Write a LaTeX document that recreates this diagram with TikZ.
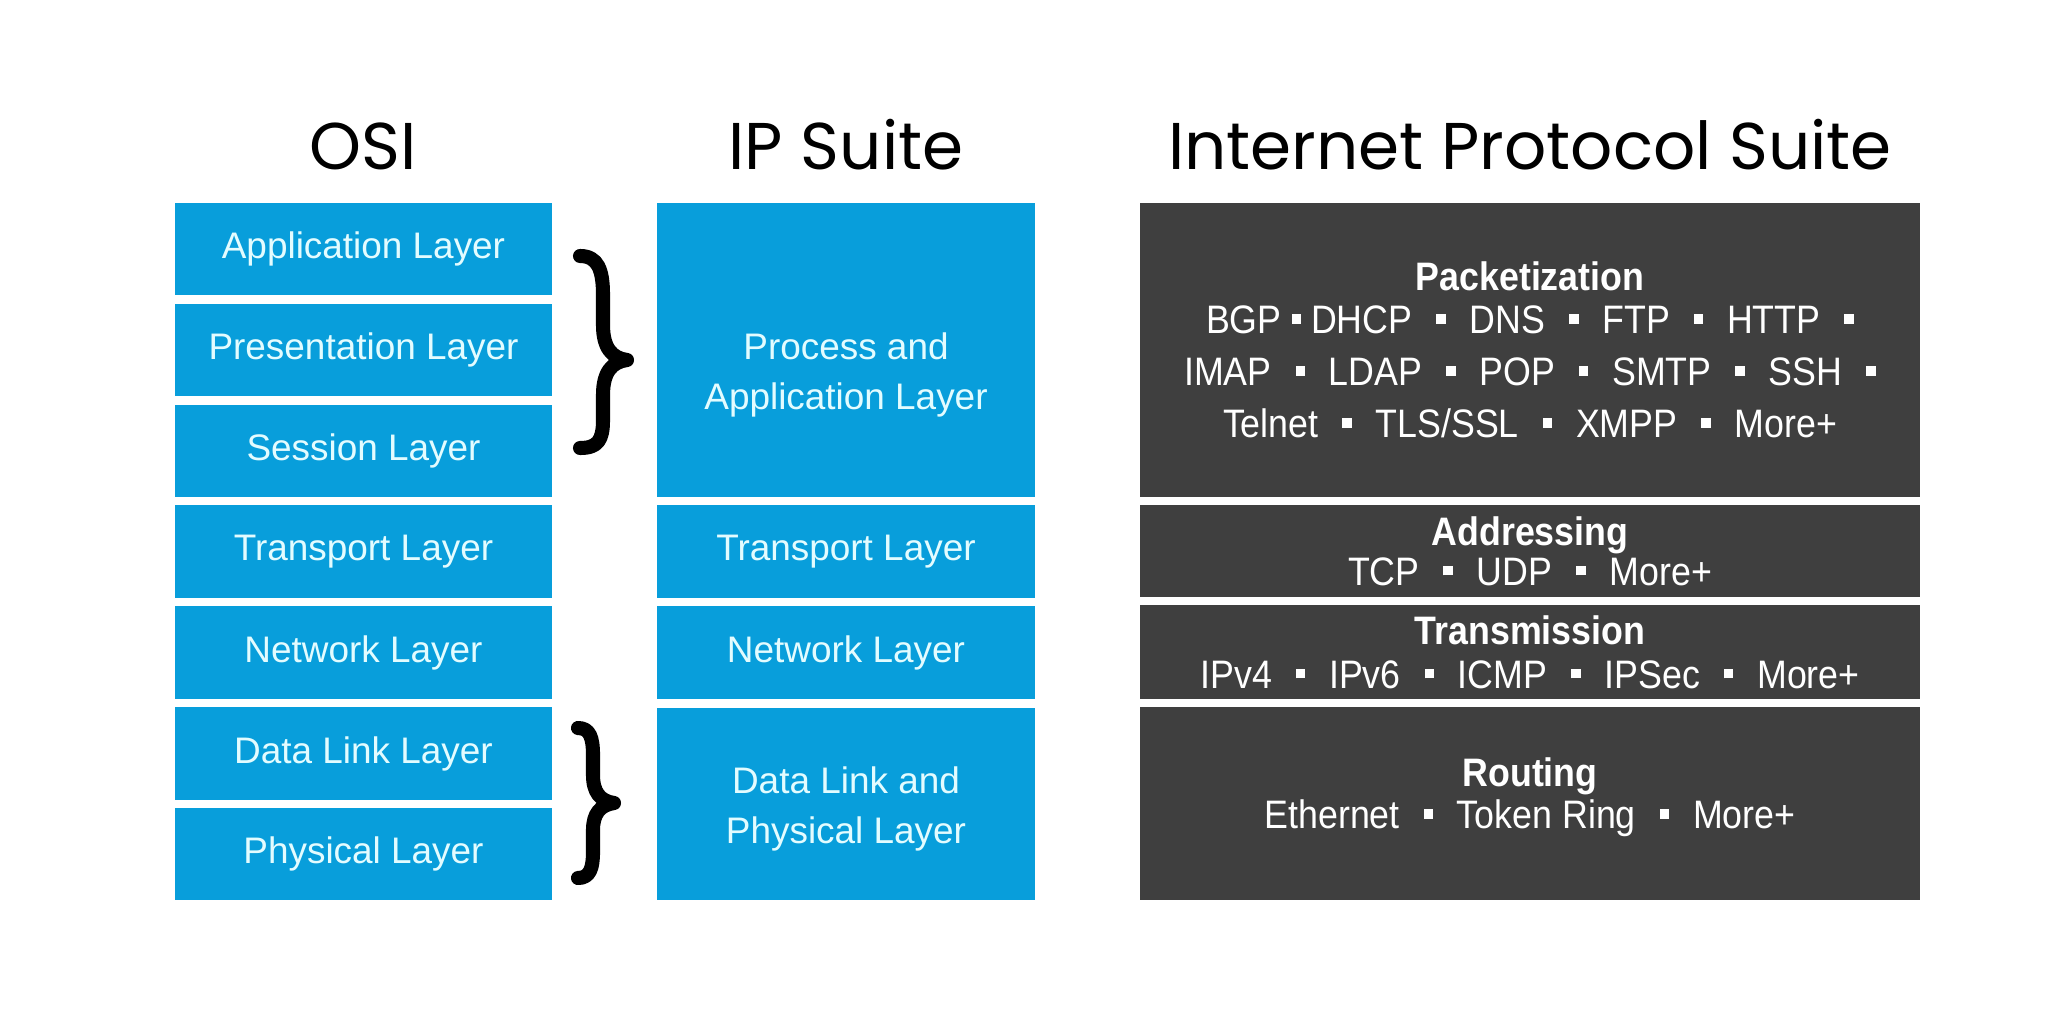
\documentclass[tikz,border=0pt]{standalone}
\usepackage{fontspec}
\setmainfont{Liberation Sans}
\newfontfamily\titlefont{Poppins}
\newfontfamily\narrowfont[FakeStretch=0.9]{Liberation Sans}
\definecolor{osiblue}{HTML}{089EDB}
\definecolor{layertext}{HTML}{E3FCFF}
\definecolor{suitegray}{HTML}{3F3F3F}
\tikzset{
  coltitle/.style={font=\titlefont\fontsize{18.8}{22}\selectfont, anchor=base},
  bluebox/.style={fill=osiblue, text=layertext, minimum width=3.77cm, minimum height=0.92cm, inner sep=0pt, align=center, font=\fontsize{10.5}{14.3}\selectfont},
  bluetext/.style={align=center, text=layertext, inner sep=0pt, font=\fontsize{10.5}{14.3}\selectfont},
  graybox/.style={fill=suitegray, text=white, minimum width=7.8cm, inner sep=0pt, align=center, font=\narrowfont\fontsize{11.3}{10}\selectfont},
  graytext/.style={align=center, text=white, inner sep=0pt, font=\narrowfont\fontsize{11.3}{10}\selectfont},
  bracestroke/.style={line width=4pt, line cap=round, line join=round}
}
\newcommand\psep{\hspace{0.6em}\rule[0.25em]{0.24em}{0.24em}\hspace{0.6em}}
\newcommand\psept{\hspace{0.25em}\rule[0.25em]{0.24em}{0.24em}\hspace{0.25em}}
\begin{document}
\begin{tikzpicture}[x=0.01cm, y=-0.01cm]
	\fill[white] (0,0) rectangle (2048,1024);
	\useasboundingbox (0,0) rectangle (2048,1024);
	
	%Titel
	\node[coltitle] (tosi) at (363,169) {OSI};
	\node[coltitle] (tip) at (846,169) {IP Suite};
	\node[coltitle] (tips) at (1530,169) {Internet Protocol Suite};
	
	%OSI
	\node[bluebox] (app) at (363.5,249) {Application Layer};
	\node[bluebox] (pres) at (363.5,350) {Presentation Layer};
	\node[bluebox] (sess) at (363.5,451) {Session Layer};
	\node[bluebox] (trans) at (363.5,551.5) {Transport Layer};
	\node[bluebox] (net) at (363.5,652.5) {Network Layer};
	\node[bluebox] (link) at (363.5,753.5) {Data Link Layer};
	\node[bluebox] (phys) at (363.5,854) {Physical Layer};
	
	%Klammern
	\draw[bracestroke] (580,256) .. controls (598,256) and (603,270) .. (603,295) -- (603,325) .. controls (603,348) and (612,358) .. (627,360) .. controls (612,362) and (603,372) .. (603,395) -- (603,420) .. controls (603,440) and (598,448) .. (580,448);
	\draw[bracestroke] (578,728) .. controls (590,728) and (593,738) .. (593,755) -- (593,775) .. controls (593,792) and (600,801) .. (614,803) .. controls (600,805) and (593,814) .. (593,830) -- (593,852) .. controls (593,868) and (590,878) .. (578,878);
	
	%IP Suite
	\node[bluebox, minimum height=2.94cm] (proc) at (846,350) {};
	\node[bluetext] (proctext) at (846,375) {Process and\\Application Layer};
	\node[bluebox] (iptrans) at (846,551.5) {Transport Layer};
	\node[bluebox] (ipnet) at (846,652.5) {Network Layer};
	\node[bluebox, minimum height=1.92cm] (iplink) at (846,804) {};
	\node[bluetext] (iplinktext) at (846,809) {Data Link and\\Physical Layer};
	
	%Internet Protocol Suite
	\node[graybox, minimum height=2.94cm] (pkt) at (1530,350) {\textbf{Packetization}\\[2.2pt]
		BGP\psept DHCP\psep DNS\psep FTP\psep HTTP\psep\\[4.8pt]
		IMAP\psep LDAP\psep POP\psep SMTP\psep SSH\psep\\[4.8pt]
		Telnet\psep TLS/SSL\psep XMPP\psep More+};
	\node[graybox, minimum height=0.92cm] (addr) at (1530,551) {\textbf{Addressing}\\[0.2pt]
		TCP\psep UDP\psep More+};
	\node[graybox, minimum height=0.94cm] (tx) at (1530,652) {\textbf{Transmission}\\[2.5pt]
		IPv4\psep IPv6\psep ICMP\psep IPSec\psep More+};
	\node[graybox, minimum height=1.93cm] (rout) at (1530,803.5) {};
	\node[graytext] (routtext) at (1530,797) {\textbf{Routing}\\[0.5pt]
		Ethernet\psep Token Ring\psep More+};
	
\end{tikzpicture}
\end{document}
